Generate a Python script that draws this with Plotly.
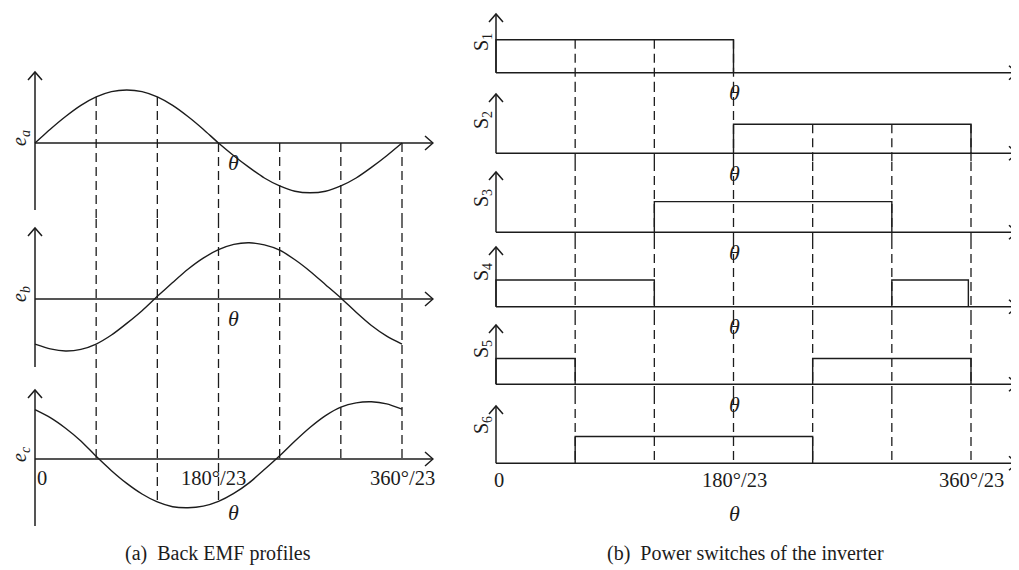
import plotly.graph_objects as go

W, H = 1019, 570
OFF = 8                      # the page body margin that the browser adds
FW, FH = W - OFF, H - OFF - 4
FONT = "Liberation Serif"
INK = "#1c1c1c"

# ---------------- data ----------------
theta_deg = [0, 15, 30, 45, 60, 75, 90, 105, 120, 135, 150, 165, 180,
             195, 210, 225, 240, 255, 270, 285, 300, 315, 330, 345, 360]
e_a = [0.00, 0.26, 0.50, 0.71, 0.87, 0.97, 1.00, 0.97, 0.87, 0.71, 0.50, 0.26, 0.00,
       -0.24, -0.46, -0.66, -0.81, -0.91, -0.94, -0.91, -0.81, -0.66, -0.46, -0.24, 0.00]
e_b = [-0.85, -0.94, -0.98, -0.95, -0.85, -0.68, -0.46, -0.22, 0.05, 0.31, 0.56, 0.77, 0.93,
       1.03, 1.06, 1.02, 0.92, 0.74, 0.52, 0.27, 0.02, -0.25, -0.50, -0.70, -0.85]
e_c = [0.93, 0.78, 0.58, 0.34, 0.05, -0.22, -0.46, -0.66, -0.81, -0.90, -0.92, -0.89, -0.80,
       -0.65, -0.45, -0.20, 0.06, 0.34, 0.60, 0.82, 0.98, 1.06, 1.08, 1.04, 0.94]
emf_series = [e_a, e_b, e_c]
emf_labels = ["<i>e</i><sub><i>a</i></sub>", "<i>e</i><sub><i>b</i></sub>", "<i>e</i><sub><i>c</i></sub>"]

boundary_angles = [60, 120, 180, 240, 300, 360]

switch_labels = ["S<sub>1</sub>", "S<sub>2</sub>", "S<sub>3</sub>",
                 "S<sub>4</sub>", "S<sub>5</sub>", "S<sub>6</sub>"]
switch_on = [[(0, 180)], [(180, 360)], [(120, 300)],
             [(0, 120), (300, 358)], [(0, 60), (240, 360)], [(60, 240)]]
switch_level = [1.00, 0.88, 0.93, 0.81, 0.78, 0.81]

tick_angles = [0, 180, 360]
tick_labels = ["0", "180°/23", "360°/23"]
captions = ["(a)  Back EMF profiles", "(b)  Power switches of the inverter"]


# ---------------- layout helpers (window pixels -> paper) ----------------
def px_x(p):
    return (p - OFF) / FW


def px_y(p):
    return 1 - (p - OFF) / FH


fig = go.Figure()
layout = {}
shapes = []
annotations = []
axis_count = [0]


def new_axes(xdom_px, ydom_px, xrange, yrange):
    axis_count[0] += 1
    k = "" if axis_count[0] == 1 else str(axis_count[0])
    layout["xaxis" + k] = dict(domain=[max(0, px_x(xdom_px[0])), min(1, px_x(xdom_px[1]))],
                               range=xrange, visible=False, anchor="y" + k, fixedrange=True)
    layout["yaxis" + k] = dict(domain=[max(0, px_y(ydom_px[1])), min(1, px_y(ydom_px[0]))],
                               range=yrange, visible=False, anchor="x" + k, fixedrange=True)
    return "x" + k, "y" + k


def seg(xr, yr, x0, y0, x1, y1, width=1.5, dash="solid", color=INK):
    shapes.append(dict(type="line", xref=xr, yref=yr, x0=x0, y0=y0, x1=x1, y1=y1,
                       line=dict(color=color, width=width, dash=dash), layer="above"))


def arrow(xr, yr, x, y, up):
    path = "M-7,-8 L0,0 L7,-8" if up else "M-8,7 L0,0 L-8,-7"
    shapes.append(dict(type="path", xref=xr, yref=yr, xsizemode="pixel", ysizemode="pixel",
                       xanchor=x, yanchor=y, path=path,
                       line=dict(color=INK, width=1.5), layer="above"))


def text(s, x, y, size=20.5, angle=0, xanchor="center"):
    annotations.append(dict(text=s, x=px_x(x), y=px_y(y), xref="paper", yref="paper",
                            showarrow=False, xanchor=xanchor, yanchor="middle",
                            textangle=angle, font=dict(family=FONT, size=size, color=INK)))


DASH = "9px,5px"

# ---------------- left panel: back EMF ----------------
XL0, XL360, XLTIP = 35, 402, 433
DPP_L = 360 / (XL360 - XL0)
XL_LEFT = 25
xr_L = [-(XL0 - XL_LEFT) * DPP_L, (XLTIP + 1 - XL0) * DPP_L]
SCALE_L = 53
left_axis_px = [143, 299, 459]
left_tip_px = [72, 228, 390]
left_bottom_px = [210, 367, 526]
left_bounds_px = [60, 219, 379, 535]

left_refs = []
for i, series in enumerate(emf_series):
    top, bot = left_bounds_px[i], left_bounds_px[i + 1]
    ax0 = left_axis_px[i]
    yr = [-(bot - ax0) / SCALE_L, (ax0 - top) / SCALE_L]
    xr, yref = new_axes((XL_LEFT, XLTIP + 1), (top, bot), xr_L, yr)
    left_refs.append((xr, yref, yr))
    fig.add_trace(go.Scatter(x=theta_deg, y=series, mode="lines", xaxis=xr, yaxis=yref,
                             line=dict(color=INK, width=1.4, shape="spline", smoothing=0.6),
                             hoverinfo="skip", showlegend=False))
    xend = (XLTIP - XL0) * DPP_L
    seg(xr, yref, 0, 0, xend, 0)
    seg(xr, yref, 0, -(left_bottom_px[i] - ax0) / SCALE_L, 0, (ax0 - left_tip_px[i]) / SCALE_L)
    arrow(xr, yref, xend, 0, up=False)
    arrow(xr, yref, 0, (ax0 - left_tip_px[i]) / SCALE_L, up=True)
    text(emf_labels[i], 20, ax0 - 5, size=20, angle=-90)

for d in boundary_angles:
    j = theta_deg.index(d)
    top_v = max(e_a[j], 0)
    bot_v = min(e_c[j], 0)
    xr, yref, yr = left_refs[0]
    seg(xr, yref, d, top_v, d, yr[0], width=1.3, dash=DASH)
    xr, yref, yr = left_refs[1]
    seg(xr, yref, d, yr[1], d, yr[0], width=1.3, dash=DASH)
    xr, yref, yr = left_refs[2]
    seg(xr, yref, d, yr[1], d, bot_v, width=1.3, dash=DASH)

for y in [162, 318, 512]:
    text("<i>θ</i>", 233, y, size=22)
left_tick_x = [42, 213, 402]
for t, s, x in zip(tick_angles, tick_labels, left_tick_x):
    text(s, x, 478)
text(captions[0], 218, 553, size=20)

# ---------------- right panel: switches ----------------
XR0, XR360, XRTIP = 496, 971, 1017
DPP_R = 360 / (XR360 - XR0)
XR_LEFT = 486
xr_R = [-(XR0 - XR_LEFT) * DPP_R, (W - XR0) * DPP_R]
SCALE_R = 33
right_axis_px = [72.7, 153.3, 232.3, 306.7, 384.3, 463.3]
right_tip_px = [14, 94, 172, 247, 325, 406]
right_bounds_px = [8, 83, 162, 240, 316, 395, 472]
right_label_px = [42, 120, 198, 272, 349, 425]

right_refs = []
for i in range(6):
    top, bot = right_bounds_px[i], right_bounds_px[i + 1]
    ax0 = right_axis_px[i]
    yr = [-(bot - ax0) / SCALE_R, (ax0 - top) / SCALE_R]
    xr, yref = new_axes((XR_LEFT, W), (top, bot), xr_R, yr)
    right_refs.append((xr, yref, yr))
    lvl = switch_level[i]
    for a, b in switch_on[i]:
        fig.add_trace(go.Scatter(x=[a, a, b, b], y=[0, lvl, lvl, 0], mode="lines",
                                 xaxis=xr, yaxis=yref,
                                 line=dict(color=INK, width=1.4),
                                 hoverinfo="skip", showlegend=False))
    xend = (XRTIP - XR0) * DPP_R
    seg(xr, yref, 0, 0, xend, 0)
    seg(xr, yref, 0, 0, 0, (ax0 - right_tip_px[i]) / SCALE_R)
    arrow(xr, yref, xend, 0, up=False)
    arrow(xr, yref, 0, (ax0 - right_tip_px[i]) / SCALE_R, up=True)
    text(switch_labels[i], 482, right_label_px[i], size=20, angle=-90)
    if i < 5:
        text("<i>θ</i>", 734, ax0 + 20, size=22)


def is_on(k, d):
    return any(a <= d <= b for a, b in switch_on[k])


for d in boundary_angles:
    k0 = next(k for k in range(6) if is_on(k, d))
    for k in range(k0, 6):
        xr, yref, yr = right_refs[k]
        y_top = switch_level[k] if k == k0 else yr[1]
        y_bot = 0 if k == 5 else yr[0]
        seg(xr, yref, d, y_top, d, y_bot, width=1.3, dash=DASH)

right_tick_x = [499, 734, 971]
for t, s, x in zip(tick_angles, tick_labels, right_tick_x):
    text(s, x, 480)
text("<i>θ</i>", 734, 513, size=22)
text(captions[1], 745, 553, size=20)

fig.update_layout(
    width=FW, height=FH,
    margin=dict(l=0, r=0, t=0, b=0),
    paper_bgcolor="white", plot_bgcolor="rgba(0,0,0,0)",
    showlegend=False,
    shapes=shapes, annotations=annotations,
    **layout,
)
fig.write_html("out.html", config={"displayModeBar": False})
